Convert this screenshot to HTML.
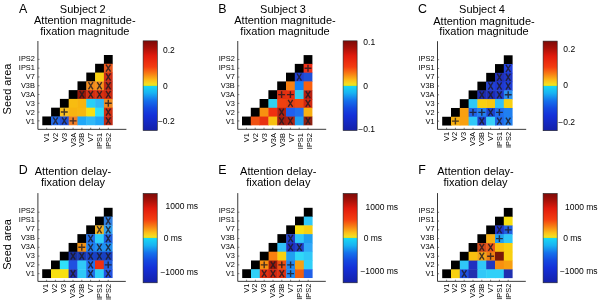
<!DOCTYPE html><html><head><meta charset="utf-8"><title>Figure</title>
<style>html,body{margin:0;padding:0;background:#fff;}svg{display:block;will-change:transform;}text{font-family:"Liberation Sans", sans-serif;fill:#000;}.mk{stroke:#1e1a22;stroke-width:1.4;fill:none;stroke-opacity:0.82;}.ax{stroke:#3a3a3a;stroke-width:1.0;fill:none;}.tk{stroke:#444;stroke-width:0.7;fill:none;}</style></head><body>
<svg xmlns="http://www.w3.org/2000/svg" width="600" height="302" viewBox="0 0 600 302">
<defs><linearGradient id="cmap" x1="0" y1="0" x2="0" y2="1"><stop offset="0" stop-color="#7c0a08"/><stop offset="0.08" stop-color="#a81008"/><stop offset="0.167" stop-color="#e01a0c"/><stop offset="0.29" stop-color="#f43c10"/><stop offset="0.37" stop-color="#f88014"/><stop offset="0.44" stop-color="#fcc018"/><stop offset="0.485" stop-color="#f4e020"/><stop offset="0.498" stop-color="#d0e02c"/><stop offset="0.502" stop-color="#18d8f4"/><stop offset="0.58" stop-color="#18b4f2"/><stop offset="0.667" stop-color="#1470ec"/><stop offset="0.75" stop-color="#1448e0"/><stop offset="0.833" stop-color="#1430d8"/><stop offset="1" stop-color="#1420a8"/></linearGradient></defs>
<filter id="bl" x="0" y="0" width="600" height="302" filterUnits="userSpaceOnUse"><feGaussianBlur stdDeviation="0"/></filter>
<rect width="600" height="302" fill="#fff"/>
<text x="19" y="13.3" font-size="12.4">A</text>
<text x="82.8" y="12.9" font-size="11.0" text-anchor="middle">Subject 2</text>
<text x="84.8" y="24.3" font-size="11.0" text-anchor="middle">Attention magnitude-</text>
<text x="84.8" y="35" font-size="11.0" text-anchor="middle">fixation magnitude</text>
<rect x="103.9" y="55" width="8.8" height="9.23" fill="#000"/>
<rect x="95.1" y="63.78" width="9.25" height="9.23" fill="#000"/>
<rect x="103.9" y="63.78" width="8.8" height="9.23" fill="#e8581c"/>
<path d="M106.05 64.62L110.55 71.72M110.55 64.62L106.05 71.72" class="mk"/>
<rect x="86.3" y="72.56" width="9.25" height="9.23" fill="#000"/>
<rect x="95.1" y="72.56" width="9.25" height="9.23" fill="#f8d010"/>
<rect x="103.9" y="72.56" width="8.8" height="9.23" fill="#d03018"/>
<path d="M106.05 73.4L110.55 80.5M110.55 73.4L106.05 80.5" class="mk"/>
<rect x="77.5" y="81.34" width="9.25" height="9.23" fill="#000"/>
<rect x="86.3" y="81.34" width="9.25" height="9.23" fill="#f48c1c"/>
<path d="M88.45 82.18L92.95 89.28M92.95 82.18L88.45 89.28" class="mk"/>
<rect x="95.1" y="81.34" width="9.25" height="9.23" fill="#f4901c"/>
<path d="M97.25 82.18L101.75 89.28M101.75 82.18L97.25 89.28" class="mk"/>
<rect x="103.9" y="81.34" width="8.8" height="9.23" fill="#c02a14"/>
<path d="M106.05 82.18L110.55 89.28M110.55 82.18L106.05 89.28" class="mk"/>
<rect x="68.7" y="90.12" width="9.25" height="9.23" fill="#000"/>
<rect x="77.5" y="90.12" width="9.25" height="9.23" fill="#981808"/>
<path d="M79.65 90.96L84.15 98.06M84.15 90.96L79.65 98.06" class="mk"/>
<rect x="86.3" y="90.12" width="9.25" height="9.23" fill="#d42c10"/>
<path d="M88.45 90.96L92.95 98.06M92.95 90.96L88.45 98.06" class="mk"/>
<rect x="95.1" y="90.12" width="9.25" height="9.23" fill="#d83010"/>
<path d="M97.25 90.96L101.75 98.06M101.75 90.96L97.25 98.06" class="mk"/>
<rect x="103.9" y="90.12" width="8.8" height="9.23" fill="#cc2a10"/>
<path d="M106.05 90.96L110.55 98.06M110.55 90.96L106.05 98.06" class="mk"/>
<rect x="59.9" y="98.9" width="9.25" height="9.23" fill="#000"/>
<rect x="68.7" y="98.9" width="9.25" height="9.23" fill="#f8bc10"/>
<rect x="77.5" y="98.9" width="9.25" height="9.23" fill="#f8b410"/>
<rect x="86.3" y="98.9" width="9.25" height="9.23" fill="#28d0f8"/>
<rect x="95.1" y="98.9" width="9.25" height="9.23" fill="#30b8f8"/>
<rect x="103.9" y="98.9" width="8.8" height="9.23" fill="#f08a20"/>
<path d="M104.85 103.29L111.75 103.29M108.3 99.84L108.3 106.74" class="mk"/>
<rect x="51.1" y="107.68" width="9.25" height="9.23" fill="#000"/>
<rect x="59.9" y="107.68" width="9.25" height="9.23" fill="#f8c020"/>
<path d="M60.85 112.07L67.75 112.07M64.3 108.62L64.3 115.52" class="mk"/>
<rect x="68.7" y="107.68" width="9.25" height="9.23" fill="#f8b410"/>
<rect x="77.5" y="107.68" width="9.25" height="9.23" fill="#f8b810"/>
<rect x="86.3" y="107.68" width="9.25" height="9.23" fill="#f8e010"/>
<rect x="95.1" y="107.68" width="9.25" height="9.23" fill="#30e0f8"/>
<rect x="103.9" y="107.68" width="8.8" height="9.23" fill="#d03010"/>
<path d="M106.05 108.52L110.55 115.62M110.55 108.52L106.05 115.62" class="mk"/>
<rect x="42.3" y="116.46" width="9.25" height="8.78" fill="#000"/>
<rect x="51.1" y="116.46" width="9.25" height="8.78" fill="#2068e8"/>
<path d="M53.25 117.3L57.75 124.4M57.75 117.3L53.25 124.4" class="mk"/>
<rect x="59.9" y="116.46" width="9.25" height="8.78" fill="#2050d8"/>
<path d="M62.05 117.3L66.55 124.4M66.55 117.3L62.05 124.4" class="mk"/>
<rect x="68.7" y="116.46" width="9.25" height="8.78" fill="#f08028"/>
<path d="M69.65 120.85L76.55 120.85M73.1 117.4L73.1 124.3" class="mk"/>
<rect x="77.5" y="116.46" width="9.25" height="8.78" fill="#20a8f8"/>
<rect x="86.3" y="116.46" width="9.25" height="8.78" fill="#30b8f8"/>
<rect x="95.1" y="116.46" width="9.25" height="8.78" fill="#20a8f8"/>
<rect x="103.9" y="116.46" width="8.8" height="8.78" fill="#c02a14"/>
<path d="M106.05 117.3L110.55 124.4M110.55 117.3L106.05 124.4" class="mk"/>
<path d="M37.9 41L37.9 129.35L126.4 129.35" class="ax"/>
<path d="M46.7 129.35v-1.6M55.5 129.35v-1.6M64.3 129.35v-1.6M73.1 129.35v-1.6M81.9 129.35v-1.6M90.7 129.35v-1.6M99.5 129.35v-1.6M108.3 129.35v-1.6M37.9 59.39h1.6M37.9 68.17h1.6M37.9 76.95h1.6M37.9 85.73h1.6M37.9 94.51h1.6M37.9 103.29h1.6M37.9 112.07h1.6M37.9 120.85h1.6" class="tk"/>
<text x="34.9" y="61.4" font-size="7.4" text-anchor="end">IPS2</text>
<text x="34.9" y="70.4" font-size="7.4" text-anchor="end">IPS1</text>
<text x="34.9" y="79.4" font-size="7.4" text-anchor="end">V7</text>
<text x="34.9" y="88.4" font-size="7.4" text-anchor="end">V3B</text>
<text x="34.9" y="97.4" font-size="7.4" text-anchor="end">V3A</text>
<text x="34.9" y="106.4" font-size="7.4" text-anchor="end">V3</text>
<text x="34.9" y="115.4" font-size="7.4" text-anchor="end">V2</text>
<text x="34.9" y="124.4" font-size="7.4" text-anchor="end">V1</text>
<text transform="translate(48.61 132.85) rotate(-90)" font-size="7.4" text-anchor="end">V1</text>
<text transform="translate(57.58 132.85) rotate(-90)" font-size="7.4" text-anchor="end">V2</text>
<text transform="translate(66.55 132.85) rotate(-90)" font-size="7.4" text-anchor="end">V3</text>
<text transform="translate(75.52 132.85) rotate(-90)" font-size="7.4" text-anchor="end">V3A</text>
<text transform="translate(84.48 132.85) rotate(-90)" font-size="7.4" text-anchor="end">V3B</text>
<text transform="translate(93.45 132.85) rotate(-90)" font-size="7.4" text-anchor="end">V7</text>
<text transform="translate(102.42 132.85) rotate(-90)" font-size="7.4" text-anchor="end">IPS1</text>
<text transform="translate(111.4 132.85) rotate(-90)" font-size="7.4" text-anchor="end">IPS2</text>
<rect x="143.1" y="40.85" width="14.2" height="89.65" fill="url(#cmap)" stroke="#222" stroke-width="0.6"/>
<text x="163" y="53.2" font-size="8.5">0.2</text>
<text x="163" y="88.6" font-size="8.5">0</text>
<text x="157.9" y="123.6" font-size="8.5">−0.2</text>
<text x="218.3" y="13.2" font-size="12.4">B</text>
<text x="283" y="12.9" font-size="11.0" text-anchor="middle">Subject 3</text>
<text x="285" y="24.3" font-size="11.0" text-anchor="middle">Attention magnitude-</text>
<text x="285" y="35" font-size="11.0" text-anchor="middle">fixation magnitude</text>
<rect x="303.6" y="55.1" width="8.8" height="9.23" fill="#000"/>
<rect x="294.8" y="63.88" width="9.25" height="9.23" fill="#000"/>
<rect x="303.6" y="63.88" width="8.8" height="9.23" fill="#f03018"/>
<path d="M304.55 68.27L311.45 68.27M308 64.82L308 71.72" class="mk"/>
<rect x="286" y="72.66" width="9.25" height="9.23" fill="#000"/>
<rect x="294.8" y="72.66" width="9.25" height="9.23" fill="#2040d0"/>
<path d="M296.95 73.5L301.45 80.6M301.45 73.5L296.95 80.6" class="mk"/>
<rect x="303.6" y="72.66" width="8.8" height="9.23" fill="#2050d8"/>
<rect x="277.2" y="81.44" width="9.25" height="9.23" fill="#000"/>
<rect x="286" y="81.44" width="9.25" height="9.23" fill="#f88010"/>
<rect x="294.8" y="81.44" width="9.25" height="9.23" fill="#1080f8"/>
<rect x="303.6" y="81.44" width="8.8" height="9.23" fill="#f86010"/>
<rect x="268.4" y="90.22" width="9.25" height="9.23" fill="#000"/>
<rect x="277.2" y="90.22" width="9.25" height="9.23" fill="#e03010"/>
<path d="M278.15 94.61L285.05 94.61M281.6 91.16L281.6 98.06" class="mk"/>
<rect x="286" y="90.22" width="9.25" height="9.23" fill="#e83010"/>
<path d="M286.95 94.61L293.85 94.61M290.4 91.16L290.4 98.06" class="mk"/>
<rect x="294.8" y="90.22" width="9.25" height="9.23" fill="#30d0f0"/>
<rect x="303.6" y="90.22" width="8.8" height="9.23" fill="#b82010"/>
<path d="M305.75 91.06L310.25 98.16M310.25 91.06L305.75 98.16" class="mk"/>
<rect x="259.6" y="99" width="9.25" height="9.23" fill="#000"/>
<rect x="268.4" y="99" width="9.25" height="9.23" fill="#30d0f0"/>
<rect x="277.2" y="99" width="9.25" height="9.23" fill="#f04010"/>
<rect x="286" y="99" width="9.25" height="9.23" fill="#e84010"/>
<path d="M288.15 99.84L292.65 106.94M292.65 99.84L288.15 106.94" class="mk"/>
<rect x="294.8" y="99" width="9.25" height="9.23" fill="#f04810"/>
<rect x="303.6" y="99" width="8.8" height="9.23" fill="#d02810"/>
<path d="M305.75 99.84L310.25 106.94M310.25 99.84L305.75 106.94" class="mk"/>
<rect x="250.8" y="107.78" width="9.25" height="9.23" fill="#000"/>
<rect x="259.6" y="107.78" width="9.25" height="9.23" fill="#f89010"/>
<rect x="268.4" y="107.78" width="9.25" height="9.23" fill="#f03010"/>
<rect x="277.2" y="107.78" width="9.25" height="9.23" fill="#b02010"/>
<path d="M279.35 108.62L283.85 115.72M283.85 108.62L279.35 115.72" class="mk"/>
<rect x="286" y="107.78" width="9.25" height="9.23" fill="#2060f0"/>
<rect x="294.8" y="107.78" width="9.25" height="9.23" fill="#2070f0"/>
<rect x="303.6" y="107.78" width="8.8" height="9.23" fill="#f8b010"/>
<rect x="242" y="116.56" width="9.25" height="8.78" fill="#000"/>
<rect x="250.8" y="116.56" width="9.25" height="8.78" fill="#f05010"/>
<rect x="259.6" y="116.56" width="9.25" height="8.78" fill="#e83010"/>
<rect x="268.4" y="116.56" width="9.25" height="8.78" fill="#f8c010"/>
<rect x="277.2" y="116.56" width="9.25" height="8.78" fill="#a02010"/>
<path d="M279.35 117.4L283.85 124.5M283.85 117.4L279.35 124.5" class="mk"/>
<rect x="286" y="116.56" width="9.25" height="8.78" fill="#b02010"/>
<path d="M288.15 117.4L292.65 124.5M292.65 117.4L288.15 124.5" class="mk"/>
<rect x="294.8" y="116.56" width="9.25" height="8.78" fill="#20a0f0"/>
<rect x="303.6" y="116.56" width="8.8" height="8.78" fill="#902010"/>
<path d="M305.75 117.4L310.25 124.5M310.25 117.4L305.75 124.5" class="mk"/>
<path d="M237.75 41L237.75 129.3L326.2 129.3" class="ax"/>
<path d="M246.4 129.3v-1.6M255.2 129.3v-1.6M264 129.3v-1.6M272.8 129.3v-1.6M281.6 129.3v-1.6M290.4 129.3v-1.6M299.2 129.3v-1.6M308 129.3v-1.6M237.75 59.49h1.6M237.75 68.27h1.6M237.75 77.05h1.6M237.75 85.83h1.6M237.75 94.61h1.6M237.75 103.39h1.6M237.75 112.17h1.6M237.75 120.95h1.6" class="tk"/>
<text x="234.75" y="61.4" font-size="7.4" text-anchor="end">IPS2</text>
<text x="234.75" y="70.4" font-size="7.4" text-anchor="end">IPS1</text>
<text x="234.75" y="79.4" font-size="7.4" text-anchor="end">V7</text>
<text x="234.75" y="88.4" font-size="7.4" text-anchor="end">V3B</text>
<text x="234.75" y="97.4" font-size="7.4" text-anchor="end">V3A</text>
<text x="234.75" y="106.4" font-size="7.4" text-anchor="end">V3</text>
<text x="234.75" y="115.4" font-size="7.4" text-anchor="end">V2</text>
<text x="234.75" y="124.4" font-size="7.4" text-anchor="end">V1</text>
<text transform="translate(248.7 133.1) rotate(-90)" font-size="7.4" text-anchor="end">V1</text>
<text transform="translate(257.68 133.1) rotate(-90)" font-size="7.4" text-anchor="end">V2</text>
<text transform="translate(266.65 133.1) rotate(-90)" font-size="7.4" text-anchor="end">V3</text>
<text transform="translate(275.62 133.1) rotate(-90)" font-size="7.4" text-anchor="end">V3A</text>
<text transform="translate(284.59 133.1) rotate(-90)" font-size="7.4" text-anchor="end">V3B</text>
<text transform="translate(293.56 133.1) rotate(-90)" font-size="7.4" text-anchor="end">V7</text>
<text transform="translate(302.53 133.1) rotate(-90)" font-size="7.4" text-anchor="end">IPS1</text>
<text transform="translate(311.5 133.1) rotate(-90)" font-size="7.4" text-anchor="end">IPS2</text>
<rect x="343.1" y="40.85" width="14" height="89.65" fill="url(#cmap)" stroke="#222" stroke-width="0.6"/>
<text x="363.3" y="44.8" font-size="8.5">0.1</text>
<text x="363.3" y="88.8" font-size="8.5">0</text>
<text x="358.2" y="132" font-size="8.5">−0.1</text>
<text x="418" y="13.3" font-size="12.4">C</text>
<text x="482" y="13.2" font-size="11.0" text-anchor="middle">Subject 4</text>
<text x="484" y="24.7" font-size="11.0" text-anchor="middle">Attention magnitude-</text>
<text x="484" y="35.4" font-size="11.0" text-anchor="middle">fixation magnitude</text>
<rect x="503.8" y="55.3" width="8.8" height="9.23" fill="#000"/>
<rect x="495" y="64.08" width="9.25" height="9.23" fill="#000"/>
<rect x="503.8" y="64.08" width="8.8" height="9.23" fill="#2040e0"/>
<path d="M505.95 64.92L510.45 72.02M510.45 64.92L505.95 72.02" class="mk"/>
<rect x="486.2" y="72.86" width="9.25" height="9.23" fill="#000"/>
<rect x="495" y="72.86" width="9.25" height="9.23" fill="#2030b8"/>
<path d="M497.15 73.7L501.65 80.8M501.65 73.7L497.15 80.8" class="mk"/>
<rect x="503.8" y="72.86" width="8.8" height="9.23" fill="#2038c8"/>
<path d="M505.95 73.7L510.45 80.8M510.45 73.7L505.95 80.8" class="mk"/>
<rect x="477.4" y="81.64" width="9.25" height="9.23" fill="#000"/>
<rect x="486.2" y="81.64" width="9.25" height="9.23" fill="#2040d8"/>
<path d="M488.35 82.48L492.85 89.58M492.85 82.48L488.35 89.58" class="mk"/>
<rect x="495" y="81.64" width="9.25" height="9.23" fill="#2038d0"/>
<path d="M497.15 82.48L501.65 89.58M501.65 82.48L497.15 89.58" class="mk"/>
<rect x="503.8" y="81.64" width="8.8" height="9.23" fill="#2040d8"/>
<path d="M505.95 82.48L510.45 89.58M510.45 82.48L505.95 89.58" class="mk"/>
<rect x="468.6" y="90.42" width="9.25" height="9.23" fill="#000"/>
<rect x="477.4" y="90.42" width="9.25" height="9.23" fill="#1c2cb0"/>
<path d="M479.55 91.26L484.05 98.36M484.05 91.26L479.55 98.36" class="mk"/>
<rect x="486.2" y="90.42" width="9.25" height="9.23" fill="#1c2cb4"/>
<path d="M488.35 91.26L492.85 98.36M492.85 91.26L488.35 98.36" class="mk"/>
<rect x="495" y="90.42" width="9.25" height="9.23" fill="#2038c8"/>
<path d="M497.15 91.26L501.65 98.36M501.65 91.26L497.15 98.36" class="mk"/>
<rect x="503.8" y="90.42" width="8.8" height="9.23" fill="#2890f0"/>
<path d="M504.75 94.81L511.65 94.81M508.2 91.36L508.2 98.26" class="mk"/>
<rect x="459.8" y="99.2" width="9.25" height="9.23" fill="#000"/>
<rect x="468.6" y="99.2" width="9.25" height="9.23" fill="#30c8f8"/>
<rect x="477.4" y="99.2" width="9.25" height="9.23" fill="#f8d010"/>
<rect x="486.2" y="99.2" width="9.25" height="9.23" fill="#f8c810"/>
<rect x="495" y="99.2" width="9.25" height="9.23" fill="#30c0f8"/>
<rect x="503.8" y="99.2" width="8.8" height="9.23" fill="#f8d010"/>
<rect x="451" y="107.98" width="9.25" height="9.23" fill="#000"/>
<rect x="459.8" y="107.98" width="9.25" height="9.23" fill="#f8a010"/>
<rect x="468.6" y="107.98" width="9.25" height="9.23" fill="#2064e8"/>
<path d="M469.55 112.37L476.45 112.37M473 108.92L473 115.82" class="mk"/>
<rect x="477.4" y="107.98" width="9.25" height="9.23" fill="#2080f0"/>
<path d="M478.35 112.37L485.25 112.37M481.8 108.92L481.8 115.82" class="mk"/>
<rect x="486.2" y="107.98" width="9.25" height="9.23" fill="#1c44d0"/>
<path d="M488.35 108.82L492.85 115.92M492.85 108.82L488.35 115.92" class="mk"/>
<rect x="495" y="107.98" width="9.25" height="9.23" fill="#2070f0"/>
<path d="M495.95 112.37L502.85 112.37M499.4 108.92L499.4 115.82" class="mk"/>
<rect x="503.8" y="107.98" width="8.8" height="9.23" fill="#2080f0"/>
<rect x="442.2" y="116.76" width="9.25" height="8.78" fill="#000"/>
<rect x="451" y="116.76" width="9.25" height="8.78" fill="#f8b010"/>
<path d="M451.95 121.15L458.85 121.15M455.4 117.7L455.4 124.6" class="mk"/>
<rect x="459.8" y="116.76" width="9.25" height="8.78" fill="#f8a010"/>
<rect x="468.6" y="116.76" width="9.25" height="8.78" fill="#30c8f8"/>
<rect x="477.4" y="116.76" width="9.25" height="8.78" fill="#1c40c8"/>
<path d="M479.55 117.6L484.05 124.7M484.05 117.6L479.55 124.7" class="mk"/>
<rect x="486.2" y="116.76" width="9.25" height="8.78" fill="#38d0f8"/>
<rect x="495" y="116.76" width="9.25" height="8.78" fill="#2068e8"/>
<path d="M497.15 117.6L501.65 124.7M501.65 117.6L497.15 124.7" class="mk"/>
<rect x="503.8" y="116.76" width="8.8" height="8.78" fill="#2080f0"/>
<path d="M505.95 117.6L510.45 124.7M510.45 117.6L505.95 124.7" class="mk"/>
<path d="M437.5 41.2L437.5 129.35L526.2 129.35" class="ax"/>
<path d="M446.6 129.35v-1.6M455.4 129.35v-1.6M464.2 129.35v-1.6M473 129.35v-1.6M481.8 129.35v-1.6M490.6 129.35v-1.6M499.4 129.35v-1.6M508.2 129.35v-1.6M437.5 59.69h1.6M437.5 68.47h1.6M437.5 77.25h1.6M437.5 86.03h1.6M437.5 94.81h1.6M437.5 103.59h1.6M437.5 112.37h1.6M437.5 121.15h1.6" class="tk"/>
<text x="434.5" y="61.4" font-size="7.4" text-anchor="end">IPS2</text>
<text x="434.5" y="70.4" font-size="7.4" text-anchor="end">IPS1</text>
<text x="434.5" y="79.4" font-size="7.4" text-anchor="end">V7</text>
<text x="434.5" y="88.4" font-size="7.4" text-anchor="end">V3B</text>
<text x="434.5" y="97.4" font-size="7.4" text-anchor="end">V3A</text>
<text x="434.5" y="106.4" font-size="7.4" text-anchor="end">V3</text>
<text x="434.5" y="115.4" font-size="7.4" text-anchor="end">V2</text>
<text x="434.5" y="124.4" font-size="7.4" text-anchor="end">V1</text>
<text transform="translate(448.51 131.95) rotate(-90)" font-size="7.4" text-anchor="end">V1</text>
<text transform="translate(457.48 131.95) rotate(-90)" font-size="7.4" text-anchor="end">V2</text>
<text transform="translate(466.45 131.95) rotate(-90)" font-size="7.4" text-anchor="end">V3</text>
<text transform="translate(475.42 131.95) rotate(-90)" font-size="7.4" text-anchor="end">V3A</text>
<text transform="translate(484.39 131.95) rotate(-90)" font-size="7.4" text-anchor="end">V3B</text>
<text transform="translate(493.36 131.95) rotate(-90)" font-size="7.4" text-anchor="end">V7</text>
<text transform="translate(502.33 131.95) rotate(-90)" font-size="7.4" text-anchor="end">IPS1</text>
<text transform="translate(511.3 131.95) rotate(-90)" font-size="7.4" text-anchor="end">IPS2</text>
<rect x="543.1" y="41.1" width="14.1" height="89.6" fill="url(#cmap)" stroke="#222" stroke-width="0.6"/>
<text x="563.3" y="52.2" font-size="8.5">0.2</text>
<text x="563.3" y="88" font-size="8.5">0</text>
<text x="558.2" y="125.2" font-size="8.5">−0.2</text>
<text x="18.7" y="174.3" font-size="12.4">D</text>
<text x="73" y="174.7" font-size="11.0" text-anchor="middle">Attention delay-</text>
<text x="73" y="185.7" font-size="11.0" text-anchor="middle">fixation delay</text>
<rect x="103.8" y="207.8" width="8.8" height="9.23" fill="#000"/>
<rect x="95" y="216.58" width="9.25" height="9.23" fill="#000"/>
<rect x="103.8" y="216.58" width="8.8" height="9.23" fill="#3080e0"/>
<path d="M105.95 217.42L110.45 224.52M110.45 217.42L105.95 224.52" class="mk"/>
<rect x="86.2" y="225.36" width="9.25" height="9.23" fill="#000"/>
<rect x="95" y="225.36" width="9.25" height="9.23" fill="#f0b020"/>
<path d="M97.15 226.2L101.65 233.3M101.65 226.2L97.15 233.3" class="mk"/>
<rect x="103.8" y="225.36" width="8.8" height="9.23" fill="#30a0f0"/>
<path d="M105.95 226.2L110.45 233.3M110.45 226.2L105.95 233.3" class="mk"/>
<rect x="77.4" y="234.14" width="9.25" height="9.23" fill="#000"/>
<rect x="86.2" y="234.14" width="9.25" height="9.23" fill="#2070e8"/>
<path d="M88.35 234.98L92.85 242.08M92.85 234.98L88.35 242.08" class="mk"/>
<rect x="95" y="234.14" width="9.25" height="9.23" fill="#30d0f8"/>
<rect x="103.8" y="234.14" width="8.8" height="9.23" fill="#2060e0"/>
<path d="M105.95 234.98L110.45 242.08M110.45 234.98L105.95 242.08" class="mk"/>
<rect x="68.6" y="242.92" width="9.25" height="9.23" fill="#000"/>
<rect x="77.4" y="242.92" width="9.25" height="9.23" fill="#f09010"/>
<path d="M78.35 247.31L85.25 247.31M81.8 243.86L81.8 250.76" class="mk"/>
<rect x="86.2" y="242.92" width="9.25" height="9.23" fill="#2080f0"/>
<path d="M88.35 243.76L92.85 250.86M92.85 243.76L88.35 250.86" class="mk"/>
<rect x="95" y="242.92" width="9.25" height="9.23" fill="#2090f0"/>
<path d="M97.15 243.76L101.65 250.86M101.65 243.76L97.15 250.86" class="mk"/>
<rect x="103.8" y="242.92" width="8.8" height="9.23" fill="#2090f0"/>
<path d="M105.95 243.76L110.45 250.86M110.45 243.76L105.95 250.86" class="mk"/>
<rect x="59.8" y="251.7" width="9.25" height="9.23" fill="#000"/>
<rect x="68.6" y="251.7" width="9.25" height="9.23" fill="#1830a0"/>
<path d="M70.75 252.54L75.25 259.64M75.25 252.54L70.75 259.64" class="mk"/>
<rect x="77.4" y="251.7" width="9.25" height="9.23" fill="#1838b0"/>
<path d="M79.55 252.54L84.05 259.64M84.05 252.54L79.55 259.64" class="mk"/>
<rect x="86.2" y="251.7" width="9.25" height="9.23" fill="#1840c8"/>
<path d="M88.35 252.54L92.85 259.64M92.85 252.54L88.35 259.64" class="mk"/>
<rect x="95" y="251.7" width="9.25" height="9.23" fill="#1840c0"/>
<path d="M97.15 252.54L101.65 259.64M101.65 252.54L97.15 259.64" class="mk"/>
<rect x="103.8" y="251.7" width="8.8" height="9.23" fill="#1840c0"/>
<path d="M105.95 252.54L110.45 259.64M110.45 252.54L105.95 259.64" class="mk"/>
<rect x="51" y="260.48" width="9.25" height="9.23" fill="#000"/>
<rect x="59.8" y="260.48" width="9.25" height="9.23" fill="#30e0f8"/>
<rect x="68.6" y="260.48" width="9.25" height="9.23" fill="#2050e0"/>
<rect x="77.4" y="260.48" width="9.25" height="9.23" fill="#30c8f8"/>
<rect x="86.2" y="260.48" width="9.25" height="9.23" fill="#2070f0"/>
<path d="M88.35 261.32L92.85 268.42M92.85 261.32L88.35 268.42" class="mk"/>
<rect x="95" y="260.48" width="9.25" height="9.23" fill="#f03010"/>
<rect x="103.8" y="260.48" width="8.8" height="9.23" fill="#2060e0"/>
<path d="M104.75 264.87L111.65 264.87M108.2 261.42L108.2 268.32" class="mk"/>
<rect x="42.2" y="269.26" width="9.25" height="8.78" fill="#000"/>
<rect x="51" y="269.26" width="9.25" height="8.78" fill="#f8e010"/>
<rect x="59.8" y="269.26" width="9.25" height="8.78" fill="#f8e010"/>
<rect x="68.6" y="269.26" width="9.25" height="8.78" fill="#2030b0"/>
<path d="M70.75 270.1L75.25 277.2M75.25 270.1L70.75 277.2" class="mk"/>
<rect x="77.4" y="269.26" width="9.25" height="8.78" fill="#30c8f8"/>
<rect x="86.2" y="269.26" width="9.25" height="8.78" fill="#2070e8"/>
<path d="M88.35 270.1L92.85 277.2M92.85 270.1L88.35 277.2" class="mk"/>
<rect x="95" y="269.26" width="9.25" height="8.78" fill="#30d0f8"/>
<rect x="103.8" y="269.26" width="8.8" height="8.78" fill="#2050e0"/>
<path d="M105.95 270.1L110.45 277.2M110.45 270.1L105.95 277.2" class="mk"/>
<path d="M37.9 193.1L37.9 281.4L125.8 281.4" class="ax"/>
<path d="M46.6 281.4v-1.6M55.4 281.4v-1.6M64.2 281.4v-1.6M73 281.4v-1.6M81.8 281.4v-1.6M90.6 281.4v-1.6M99.4 281.4v-1.6M108.2 281.4v-1.6M37.9 212.19h1.6M37.9 220.97h1.6M37.9 229.75h1.6M37.9 238.53h1.6M37.9 247.31h1.6M37.9 256.09h1.6M37.9 264.87h1.6M37.9 273.65h1.6" class="tk"/>
<text x="34.9" y="213.25" font-size="7.4" text-anchor="end">IPS2</text>
<text x="34.9" y="222.25" font-size="7.4" text-anchor="end">IPS1</text>
<text x="34.9" y="231.25" font-size="7.4" text-anchor="end">V7</text>
<text x="34.9" y="240.25" font-size="7.4" text-anchor="end">V3B</text>
<text x="34.9" y="249.25" font-size="7.4" text-anchor="end">V3A</text>
<text x="34.9" y="258.25" font-size="7.4" text-anchor="end">V3</text>
<text x="34.9" y="267.25" font-size="7.4" text-anchor="end">V2</text>
<text x="34.9" y="276.25" font-size="7.4" text-anchor="end">V1</text>
<text transform="translate(48.2 283.9) rotate(-90)" font-size="7.4" text-anchor="end">V1</text>
<text transform="translate(57.18 283.9) rotate(-90)" font-size="7.4" text-anchor="end">V2</text>
<text transform="translate(66.14 283.9) rotate(-90)" font-size="7.4" text-anchor="end">V3</text>
<text transform="translate(75.11 283.9) rotate(-90)" font-size="7.4" text-anchor="end">V3A</text>
<text transform="translate(84.08 283.9) rotate(-90)" font-size="7.4" text-anchor="end">V3B</text>
<text transform="translate(93.05 283.9) rotate(-90)" font-size="7.4" text-anchor="end">V7</text>
<text transform="translate(102.02 283.9) rotate(-90)" font-size="7.4" text-anchor="end">IPS1</text>
<text transform="translate(111 283.9) rotate(-90)" font-size="7.4" text-anchor="end">IPS2</text>
<rect x="143.1" y="193.45" width="14.1" height="89.35" fill="url(#cmap)" stroke="#222" stroke-width="0.6"/>
<text x="165.5" y="209.4" font-size="8.5">1000 ms</text>
<text x="163.7" y="241.4" font-size="8.5">0 ms</text>
<text x="160.4" y="275" font-size="8.5">−1000 ms</text>
<text x="218.3" y="174.3" font-size="12.4">E</text>
<text x="278.3" y="174.7" font-size="11.0" text-anchor="middle">Attention delay-</text>
<text x="278.3" y="185.7" font-size="11.0" text-anchor="middle">fixation delay</text>
<rect x="303.8" y="207.8" width="8.8" height="9.23" fill="#000"/>
<rect x="295" y="216.58" width="9.25" height="9.23" fill="#000"/>
<rect x="303.8" y="216.58" width="8.8" height="9.23" fill="#30c8f8"/>
<rect x="286.2" y="225.36" width="9.25" height="9.23" fill="#000"/>
<rect x="295" y="225.36" width="9.25" height="9.23" fill="#f8e010"/>
<rect x="303.8" y="225.36" width="8.8" height="9.23" fill="#f8d010"/>
<rect x="277.4" y="234.14" width="9.25" height="9.23" fill="#000"/>
<rect x="286.2" y="234.14" width="9.25" height="9.23" fill="#2040c8"/>
<path d="M288.35 234.98L292.85 242.08M292.85 234.98L288.35 242.08" class="mk"/>
<rect x="295" y="234.14" width="9.25" height="9.23" fill="#30c8f8"/>
<rect x="303.8" y="234.14" width="8.8" height="9.23" fill="#20a0f0"/>
<rect x="268.6" y="242.92" width="9.25" height="9.23" fill="#000"/>
<rect x="277.4" y="242.92" width="9.25" height="9.23" fill="#30c0f8"/>
<rect x="286.2" y="242.92" width="9.25" height="9.23" fill="#2030c0"/>
<path d="M288.35 243.76L292.85 250.86M292.85 243.76L288.35 250.86" class="mk"/>
<rect x="295" y="242.92" width="9.25" height="9.23" fill="#2040c8"/>
<path d="M297.15 243.76L301.65 250.86M301.65 243.76L297.15 250.86" class="mk"/>
<rect x="303.8" y="242.92" width="8.8" height="9.23" fill="#30a8f8"/>
<rect x="259.8" y="251.7" width="9.25" height="9.23" fill="#000"/>
<rect x="268.6" y="251.7" width="9.25" height="9.23" fill="#f88010"/>
<rect x="277.4" y="251.7" width="9.25" height="9.23" fill="#f8d010"/>
<rect x="286.2" y="251.7" width="9.25" height="9.23" fill="#20a0f0"/>
<rect x="295" y="251.7" width="9.25" height="9.23" fill="#30d8f8"/>
<rect x="303.8" y="251.7" width="8.8" height="9.23" fill="#30c8f8"/>
<rect x="251" y="260.48" width="9.25" height="9.23" fill="#000"/>
<rect x="259.8" y="260.48" width="9.25" height="9.23" fill="#f89010"/>
<path d="M260.75 264.87L267.65 264.87M264.2 261.42L264.2 268.32" class="mk"/>
<rect x="268.6" y="260.48" width="9.25" height="9.23" fill="#a01808"/>
<path d="M270.75 261.32L275.25 268.42M275.25 261.32L270.75 268.42" class="mk"/>
<rect x="277.4" y="260.48" width="9.25" height="9.23" fill="#f05010"/>
<path d="M278.35 264.87L285.25 264.87M281.8 261.42L281.8 268.32" class="mk"/>
<rect x="286.2" y="260.48" width="9.25" height="9.23" fill="#2088f0"/>
<path d="M287.15 264.87L294.05 264.87M290.6 261.42L290.6 268.32" class="mk"/>
<rect x="295" y="260.48" width="9.25" height="9.23" fill="#f8a010"/>
<rect x="303.8" y="260.48" width="8.8" height="9.23" fill="#30d0f8"/>
<rect x="242.2" y="269.26" width="9.25" height="8.78" fill="#000"/>
<rect x="251" y="269.26" width="9.25" height="8.78" fill="#30d0f8"/>
<rect x="259.8" y="269.26" width="9.25" height="8.78" fill="#e03010"/>
<path d="M261.95 270.1L266.45 277.2M266.45 270.1L261.95 277.2" class="mk"/>
<rect x="268.6" y="269.26" width="9.25" height="8.78" fill="#d02810"/>
<path d="M270.75 270.1L275.25 277.2M275.25 270.1L270.75 277.2" class="mk"/>
<rect x="277.4" y="269.26" width="9.25" height="8.78" fill="#e03010"/>
<path d="M279.55 270.1L284.05 277.2M284.05 270.1L279.55 277.2" class="mk"/>
<rect x="286.2" y="269.26" width="9.25" height="8.78" fill="#2088f0"/>
<path d="M287.15 273.65L294.05 273.65M290.6 270.2L290.6 277.1" class="mk"/>
<rect x="295" y="269.26" width="9.25" height="8.78" fill="#f06010"/>
<rect x="303.8" y="269.26" width="8.8" height="8.78" fill="#2060e8"/>
<path d="M237.75 193.1L237.75 281.35L325.8 281.35" class="ax"/>
<path d="M246.6 281.35v-1.6M255.4 281.35v-1.6M264.2 281.35v-1.6M273 281.35v-1.6M281.8 281.35v-1.6M290.6 281.35v-1.6M299.4 281.35v-1.6M308.2 281.35v-1.6M237.75 212.19h1.6M237.75 220.97h1.6M237.75 229.75h1.6M237.75 238.53h1.6M237.75 247.31h1.6M237.75 256.09h1.6M237.75 264.87h1.6M237.75 273.65h1.6" class="tk"/>
<text x="234.75" y="213.3" font-size="7.4" text-anchor="end">IPS2</text>
<text x="234.75" y="222.3" font-size="7.4" text-anchor="end">IPS1</text>
<text x="234.75" y="231.3" font-size="7.4" text-anchor="end">V7</text>
<text x="234.75" y="240.3" font-size="7.4" text-anchor="end">V3B</text>
<text x="234.75" y="249.3" font-size="7.4" text-anchor="end">V3A</text>
<text x="234.75" y="258.3" font-size="7.4" text-anchor="end">V3</text>
<text x="234.75" y="267.3" font-size="7.4" text-anchor="end">V2</text>
<text x="234.75" y="276.3" font-size="7.4" text-anchor="end">V1</text>
<text transform="translate(248.5 283.75) rotate(-90)" font-size="7.4" text-anchor="end">V1</text>
<text transform="translate(257.48 283.75) rotate(-90)" font-size="7.4" text-anchor="end">V2</text>
<text transform="translate(266.45 283.75) rotate(-90)" font-size="7.4" text-anchor="end">V3</text>
<text transform="translate(275.42 283.75) rotate(-90)" font-size="7.4" text-anchor="end">V3A</text>
<text transform="translate(284.39 283.75) rotate(-90)" font-size="7.4" text-anchor="end">V3B</text>
<text transform="translate(293.36 283.75) rotate(-90)" font-size="7.4" text-anchor="end">V7</text>
<text transform="translate(302.33 283.75) rotate(-90)" font-size="7.4" text-anchor="end">IPS1</text>
<text transform="translate(311.3 283.75) rotate(-90)" font-size="7.4" text-anchor="end">IPS2</text>
<rect x="343.1" y="193.45" width="14.1" height="89.35" fill="url(#cmap)" stroke="#222" stroke-width="0.6"/>
<text x="365.5" y="209.5" font-size="8.5">1000 ms</text>
<text x="363.7" y="241.4" font-size="8.5">0 ms</text>
<text x="360.4" y="274.4" font-size="8.5">−1000 ms</text>
<text x="418.3" y="174.3" font-size="12.4">F</text>
<text x="475.5" y="174.7" font-size="11.0" text-anchor="middle">Attention delay-</text>
<text x="475.5" y="185.7" font-size="11.0" text-anchor="middle">fixation delay</text>
<rect x="503.8" y="207.9" width="8.8" height="9.23" fill="#000"/>
<rect x="495" y="216.68" width="9.25" height="9.23" fill="#000"/>
<rect x="503.8" y="216.68" width="8.8" height="9.23" fill="#f8e010"/>
<rect x="486.2" y="225.46" width="9.25" height="9.23" fill="#000"/>
<rect x="495" y="225.46" width="9.25" height="9.23" fill="#2038c8"/>
<path d="M497.15 226.3L501.65 233.4M501.65 226.3L497.15 233.4" class="mk"/>
<rect x="503.8" y="225.46" width="8.8" height="9.23" fill="#2060e0"/>
<path d="M504.75 229.85L511.65 229.85M508.2 226.4L508.2 233.3" class="mk"/>
<rect x="477.4" y="234.24" width="9.25" height="9.23" fill="#000"/>
<rect x="486.2" y="234.24" width="9.25" height="9.23" fill="#f8b010"/>
<rect x="495" y="234.24" width="9.25" height="9.23" fill="#20a0f0"/>
<path d="M495.95 238.63L502.85 238.63M499.4 235.18L499.4 242.08" class="mk"/>
<rect x="503.8" y="234.24" width="8.8" height="9.23" fill="#30c8f8"/>
<rect x="468.6" y="243.02" width="9.25" height="9.23" fill="#000"/>
<rect x="477.4" y="243.02" width="9.25" height="9.23" fill="#d04818"/>
<path d="M479.55 243.86L484.05 250.96M484.05 243.86L479.55 250.96" class="mk"/>
<rect x="486.2" y="243.02" width="9.25" height="9.23" fill="#e85818"/>
<path d="M488.35 243.86L492.85 250.96M492.85 243.86L488.35 250.96" class="mk"/>
<rect x="495" y="243.02" width="9.25" height="9.23" fill="#f8c010"/>
<rect x="503.8" y="243.02" width="8.8" height="9.23" fill="#f8d010"/>
<rect x="459.8" y="251.8" width="9.25" height="9.23" fill="#000"/>
<rect x="468.6" y="251.8" width="9.25" height="9.23" fill="#f8c010"/>
<rect x="477.4" y="251.8" width="9.25" height="9.23" fill="#f0a418"/>
<path d="M479.55 252.64L484.05 259.74M484.05 252.64L479.55 259.74" class="mk"/>
<rect x="486.2" y="251.8" width="9.25" height="9.23" fill="#f08010"/>
<path d="M487.15 256.19L494.05 256.19M490.6 252.74L490.6 259.64" class="mk"/>
<rect x="495" y="251.8" width="9.25" height="9.23" fill="#781808"/>
<rect x="503.8" y="251.8" width="8.8" height="9.23" fill="#f8d010"/>
<rect x="451" y="260.58" width="9.25" height="9.23" fill="#000"/>
<rect x="459.8" y="260.58" width="9.25" height="9.23" fill="#30c8f8"/>
<rect x="468.6" y="260.58" width="9.25" height="9.23" fill="#2030c0"/>
<rect x="477.4" y="260.58" width="9.25" height="9.23" fill="#30c8f8"/>
<rect x="486.2" y="260.58" width="9.25" height="9.23" fill="#2038c0"/>
<rect x="495" y="260.58" width="9.25" height="9.23" fill="#f89010"/>
<rect x="503.8" y="260.58" width="8.8" height="9.23" fill="#f8a010"/>
<rect x="442.2" y="269.36" width="9.25" height="8.78" fill="#000"/>
<rect x="451" y="269.36" width="9.25" height="8.78" fill="#f8d010"/>
<rect x="459.8" y="269.36" width="9.25" height="8.78" fill="#2050e0"/>
<path d="M461.95 270.2L466.45 277.3M466.45 270.2L461.95 277.3" class="mk"/>
<rect x="468.6" y="269.36" width="9.25" height="8.78" fill="#2030b0"/>
<rect x="477.4" y="269.36" width="9.25" height="8.78" fill="#30c8f8"/>
<rect x="486.2" y="269.36" width="9.25" height="8.78" fill="#30d0f8"/>
<rect x="495" y="269.36" width="9.25" height="8.78" fill="#30d0f8"/>
<rect x="503.8" y="269.36" width="8.8" height="8.78" fill="#2030b0"/>
<path d="M437.5 193.1L437.5 281.35L525.8 281.35" class="ax"/>
<path d="M446.6 281.35v-1.6M455.4 281.35v-1.6M464.2 281.35v-1.6M473 281.35v-1.6M481.8 281.35v-1.6M490.6 281.35v-1.6M499.4 281.35v-1.6M508.2 281.35v-1.6M437.5 212.29h1.6M437.5 221.07h1.6M437.5 229.85h1.6M437.5 238.63h1.6M437.5 247.41h1.6M437.5 256.19h1.6M437.5 264.97h1.6M437.5 273.75h1.6" class="tk"/>
<text x="434.5" y="213.4" font-size="7.4" text-anchor="end">IPS2</text>
<text x="434.5" y="222.4" font-size="7.4" text-anchor="end">IPS1</text>
<text x="434.5" y="231.4" font-size="7.4" text-anchor="end">V7</text>
<text x="434.5" y="240.4" font-size="7.4" text-anchor="end">V3B</text>
<text x="434.5" y="249.4" font-size="7.4" text-anchor="end">V3A</text>
<text x="434.5" y="258.4" font-size="7.4" text-anchor="end">V3</text>
<text x="434.5" y="267.4" font-size="7.4" text-anchor="end">V2</text>
<text x="434.5" y="276.4" font-size="7.4" text-anchor="end">V1</text>
<text transform="translate(448.51 283.75) rotate(-90)" font-size="7.4" text-anchor="end">V1</text>
<text transform="translate(457.48 283.75) rotate(-90)" font-size="7.4" text-anchor="end">V2</text>
<text transform="translate(466.45 283.75) rotate(-90)" font-size="7.4" text-anchor="end">V3</text>
<text transform="translate(475.42 283.75) rotate(-90)" font-size="7.4" text-anchor="end">V3A</text>
<text transform="translate(484.39 283.75) rotate(-90)" font-size="7.4" text-anchor="end">V3B</text>
<text transform="translate(493.36 283.75) rotate(-90)" font-size="7.4" text-anchor="end">V7</text>
<text transform="translate(502.33 283.75) rotate(-90)" font-size="7.4" text-anchor="end">IPS1</text>
<text transform="translate(511.3 283.75) rotate(-90)" font-size="7.4" text-anchor="end">IPS2</text>
<rect x="543.1" y="193.45" width="14.1" height="89.35" fill="url(#cmap)" stroke="#222" stroke-width="0.6"/>
<text x="565" y="210.4" font-size="8.5">1000 ms</text>
<text x="563.2" y="241.4" font-size="8.5">0 ms</text>
<text x="559.9" y="274" font-size="8.5">−1000 ms</text>
<text transform="translate(10.8 89) rotate(-90)" font-size="11.0" text-anchor="middle">Seed area</text>
<text transform="translate(10.8 244.4) rotate(-90)" font-size="11.0" text-anchor="middle">Seed area</text>
</svg></body></html>
